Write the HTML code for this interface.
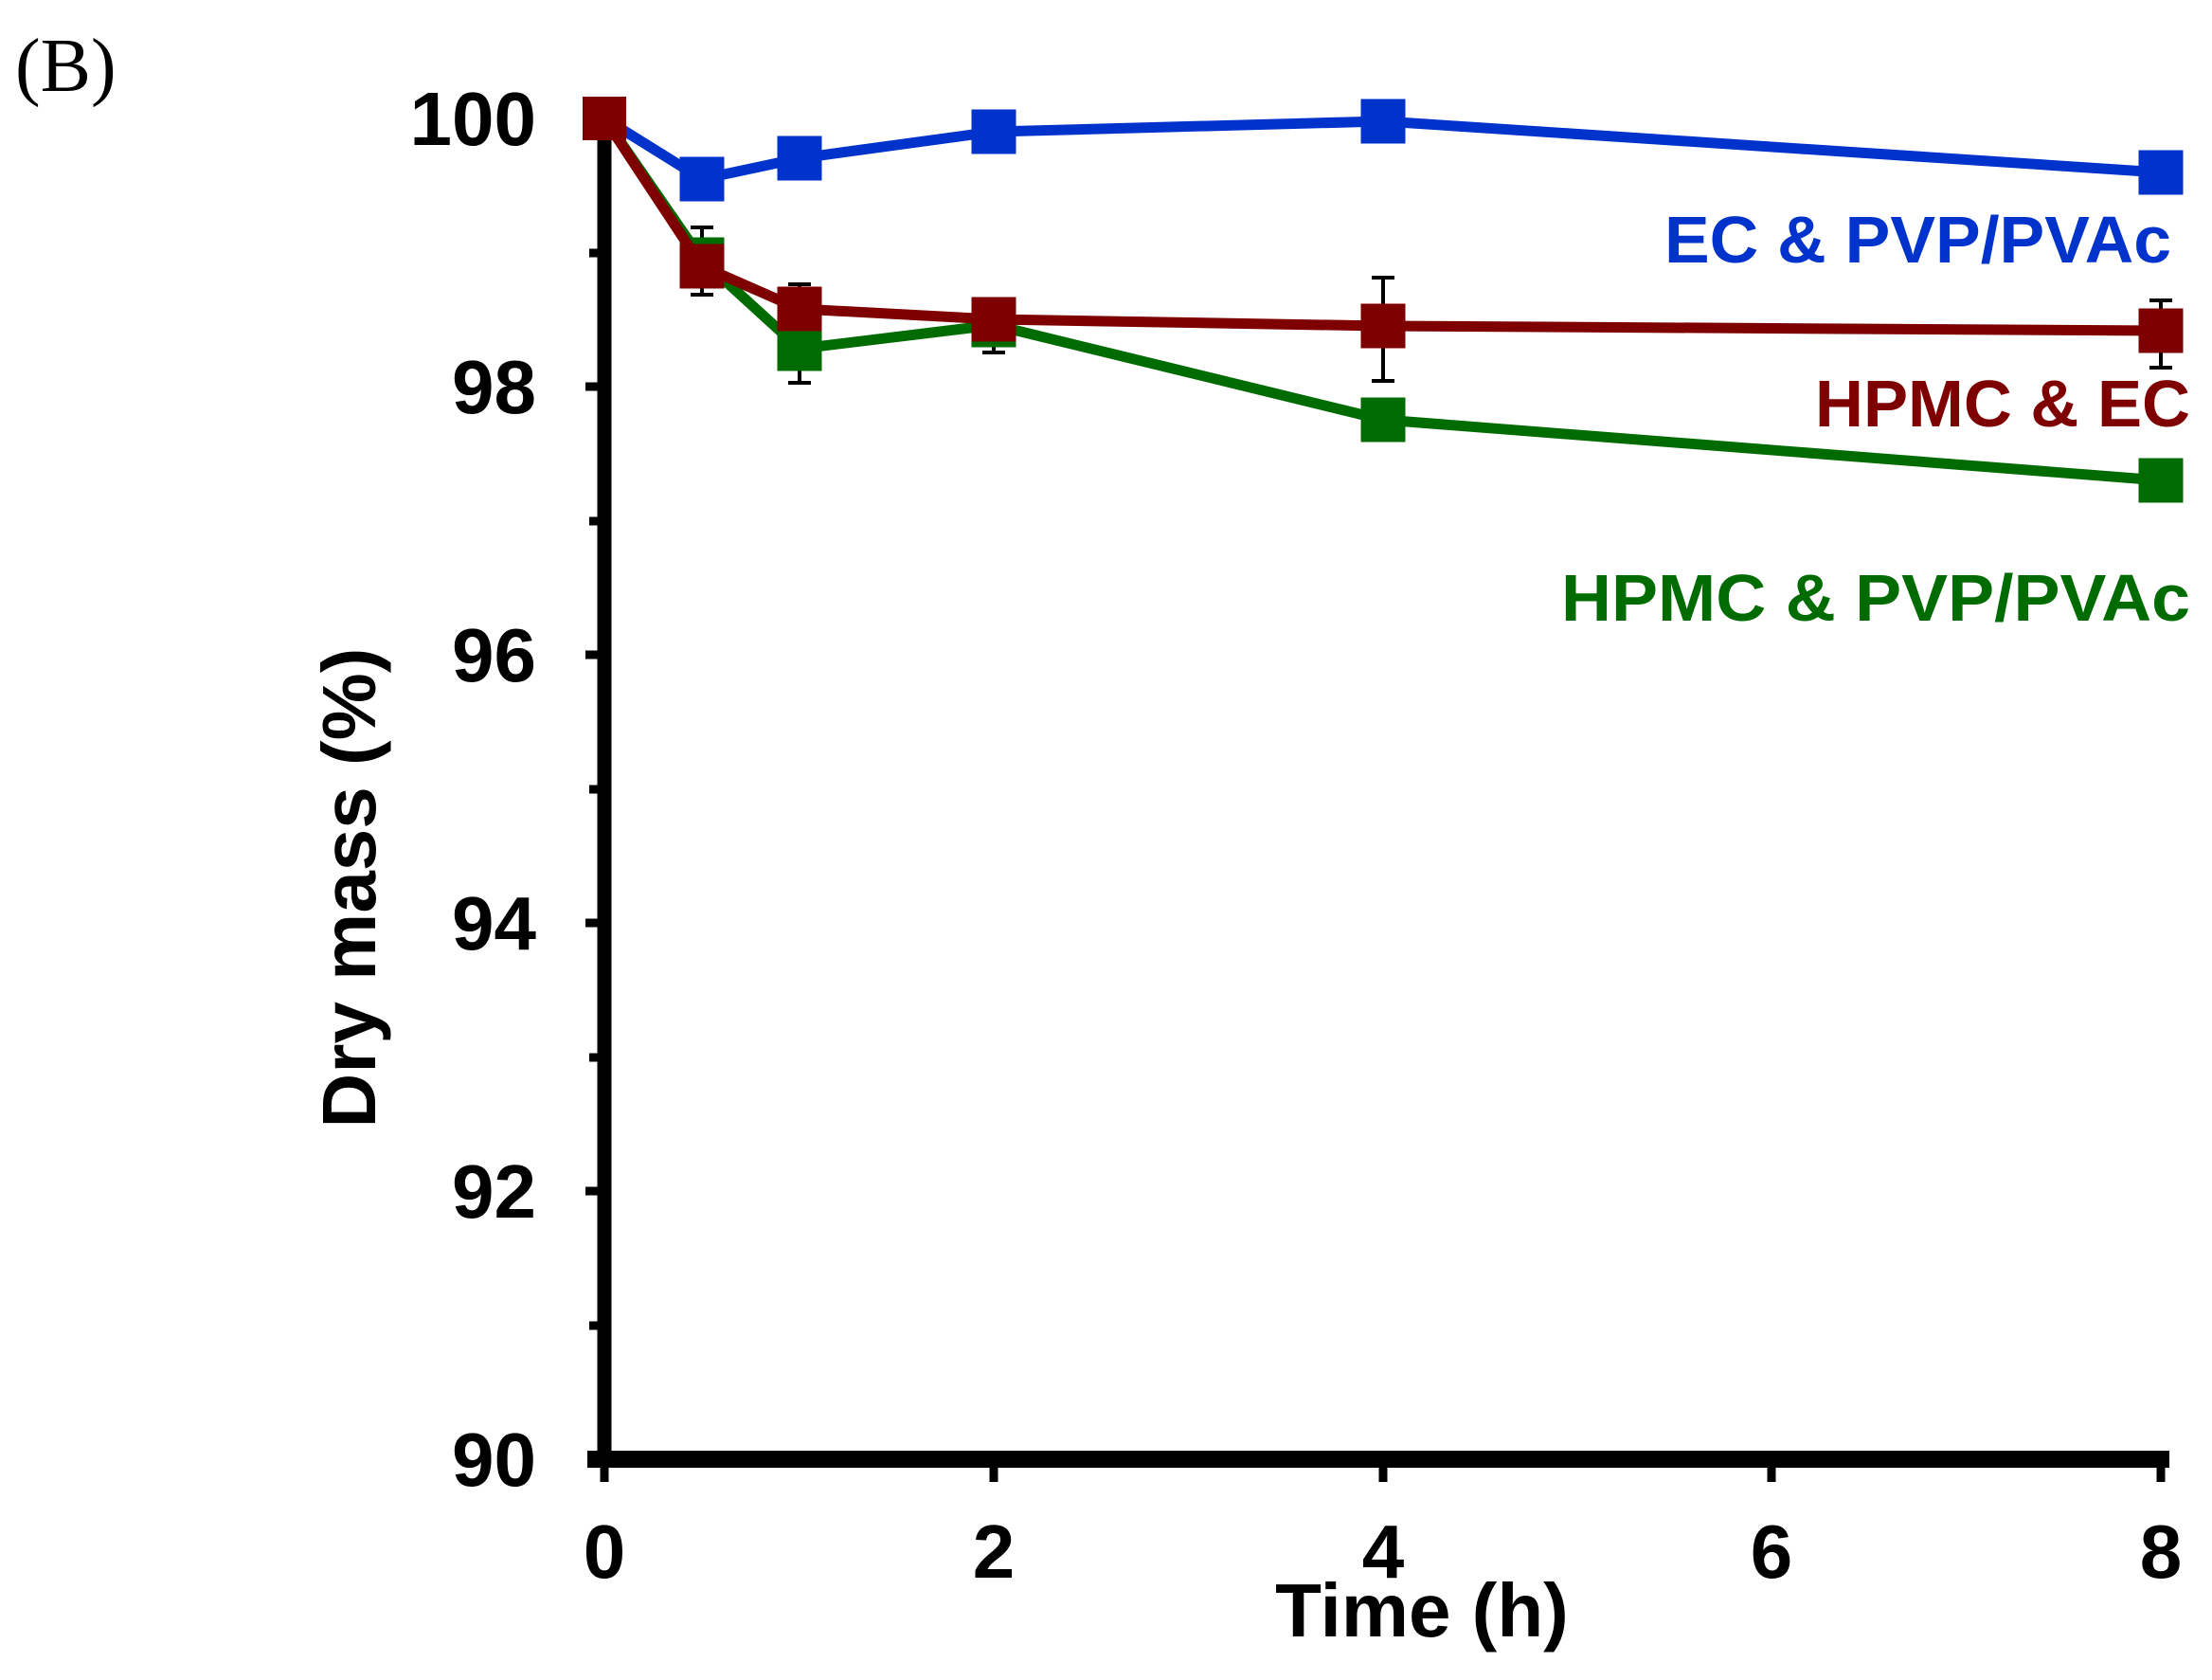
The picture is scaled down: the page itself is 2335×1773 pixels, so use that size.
<!DOCTYPE html>
<html><head><style>html,body{margin:0;padding:0;background:#fff}</style></head>
<body>
<svg width="2335" height="1768" viewBox="0 0 2335 1768" xmlns="http://www.w3.org/2000/svg">
<text x="16" y="96" font-family="Liberation Serif, serif" font-size="80">(B)</text>
<g stroke="#000">
<line x1="638" y1="118" x2="638" y2="1549" stroke-width="15"/>
<line x1="620" y1="1540" x2="2290" y2="1540" stroke-width="18"/>
<g stroke-width="9">
<line x1="618" y1="125" x2="638" y2="125"/><line x1="622" y1="267" x2="638" y2="267"/>
<line x1="618" y1="408" x2="638" y2="408"/><line x1="622" y1="550" x2="638" y2="550"/>
<line x1="618" y1="691" x2="638" y2="691"/><line x1="622" y1="833" x2="638" y2="833"/>
<line x1="618" y1="974" x2="638" y2="974"/><line x1="622" y1="1116" x2="638" y2="1116"/>
<line x1="618" y1="1257" x2="638" y2="1257"/><line x1="622" y1="1399" x2="638" y2="1399"/>
<line x1="638" y1="1540" x2="638" y2="1564"/><line x1="1049" y1="1540" x2="1049" y2="1564"/>
<line x1="1460" y1="1540" x2="1460" y2="1564"/><line x1="1870" y1="1540" x2="1870" y2="1564"/>
<line x1="2281" y1="1540" x2="2281" y2="1564"/>
</g></g>
<g font-family="Liberation Sans, Arial, sans-serif" font-weight="bold" font-size="80" fill="#000">
<g text-anchor="end">
<text x="566" y="153">100</text><text x="566" y="436">98</text><text x="566" y="719">96</text>
<text x="566" y="1002">94</text><text x="566" y="1285">92</text><text x="566" y="1568">90</text>
</g>
<g text-anchor="middle">
<text x="638" y="1665">0</text><text x="1049" y="1665">2</text><text x="1460" y="1665">4</text>
<text x="1870" y="1665">6</text><text x="2281" y="1665">8</text>
<text x="1501" y="1727" font-size="80">Time (h)</text>
<text transform="translate(396,937) rotate(-90)" font-size="80">Dry mass (%)</text>
</g></g>
<g stroke="#000" stroke-width="4">
<path d="M741 240V311M729 240H753M729 311H753"/>
<path d="M844 300V357M832 300H856M832 357H856"/>
<path d="M1460 293V402M1448 293H1472M1448 402H1472"/>
<path d="M2281 317V388M2269 317H2293M2269 388H2293"/>
<path d="M844 333V404M832 404H856"/>
<path d="M1049 322V372M1037 322H1061M1037 372H1061"/>
</g>
<g fill="#006b00" stroke="#006b00">
<polyline fill="none" stroke-width="11" points="638,125 741,274 844,368 1049,343 1460,443 2281,507"/>
<rect x="718" y="251" width="46" height="46"/><rect x="821" y="345" width="46" height="46"/>
<rect x="1026" y="320" width="46" height="46"/><rect x="1437" y="420" width="46" height="46"/>
<rect x="2258" y="484" width="46" height="46"/>
</g>
<g fill="#7f0000" stroke="#7f0000">
<polyline fill="none" stroke-width="11" points="638,125 741,281 844,326 1049,337 1460,344 2281,349"/>
<rect x="718" y="258" width="46" height="46"/><rect x="821" y="303" width="46" height="46"/>
<rect x="1026" y="314" width="46" height="46"/><rect x="1437" y="321" width="46" height="46"/>
<rect x="2258" y="326" width="46" height="46"/>
</g>
<g fill="#0033cc" stroke="#0033cc">
<polyline fill="none" stroke-width="11" points="638,125 741,189 844,167 1049,139 1460,128 2281,182"/>
<rect x="718" y="166" width="46" height="46"/><rect x="821" y="144" width="46" height="46"/>
<rect x="1026" y="116" width="46" height="46"/><rect x="1437" y="105" width="46" height="46"/>
<rect x="2258" y="159" width="46" height="46"/>
</g>
<rect x="615" y="102" width="46" height="46" fill="#7f0000"/>
<g font-family="Liberation Sans, Arial, sans-serif" font-weight="bold" font-size="70">
<text x="1757" y="277" fill="#0033cc" textLength="535" lengthAdjust="spacingAndGlyphs">EC &amp; PVP/PVAc</text>
<text x="1916" y="450" fill="#7f0000" textLength="396" lengthAdjust="spacingAndGlyphs">HPMC &amp; EC</text>
<text x="1648" y="655" fill="#006b00" textLength="664" lengthAdjust="spacingAndGlyphs">HPMC &amp; PVP/PVAc</text>
</g>
</svg>
</body></html>
